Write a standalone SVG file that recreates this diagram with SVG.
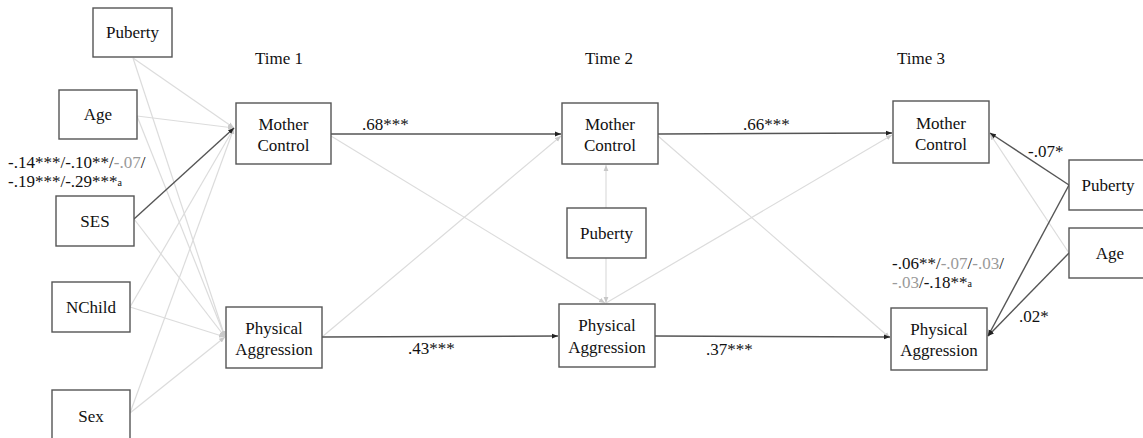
<svg xmlns="http://www.w3.org/2000/svg" width="1143" height="438" viewBox="0 0 1143 438" font-family="Liberation Serif, Times New Roman, serif" font-size="17">
  <style>
    text { font-family: 'Liberation Serif', 'Times New Roman', serif; font-size: 17px; fill: #111; }
    .box rect { fill: #fff; stroke: #555; stroke-width: 1.4; }
    .box text { text-anchor: middle; }
    .heading { text-anchor: middle; }
    .light { stroke: #dcdcdc; stroke-width: 1.2; fill: none; marker-end: url(#headLight); }
    .dark { stroke: #555; stroke-width: 1.4; fill: none; marker-end: url(#headDark); }
    .ns { fill: #9a9a9a; }
    .sup { font-size: 10px; }
  </style>
  <defs>
    <marker id="headDark" viewBox="0 0 10 10" refX="10" refY="5" markerWidth="6" markerHeight="6" markerUnits="userSpaceOnUse" orient="auto">
      <path d="M0,1 L10,5 L0,9 Z" fill="#222"/>
    </marker>
    <marker id="headLight" viewBox="0 0 10 10" refX="10" refY="5" markerWidth="6" markerHeight="6" markerUnits="userSpaceOnUse" orient="auto">
      <path d="M0,1 L10,5 L0,9 Z" fill="#c8c8c8"/>
    </marker>
  </defs>

  <!-- wave headings -->
  <g id="headings">
    <text class="heading" x="279" y="64">Time 1</text>
    <text class="heading" x="609" y="64">Time 2</text>
    <text class="heading" x="921" y="64">Time 3</text>
  </g>

  <!-- paths -->
  <g id="connectors">
    <!-- non-significant paths -->
    <line class="light" x1="133" y1="58" x2="234" y2="128"/>
    <line class="light" x1="133" y1="58" x2="225" y2="337"/>
    <line class="light" x1="137" y1="116" x2="234" y2="128"/>
    <line class="light" x1="137" y1="116" x2="225" y2="337"/>
    <line class="light" x1="134" y1="219" x2="225" y2="337"/>
    <line class="light" x1="130" y1="307" x2="234" y2="128"/>
    <line class="light" x1="130" y1="307" x2="225" y2="337"/>
    <line class="light" x1="130" y1="413" x2="234" y2="128"/>
    <line class="light" x1="130" y1="413" x2="225" y2="337"/>
    <line class="light" x1="331" y1="136" x2="605" y2="303"/>
    <line class="light" x1="322" y1="337" x2="561" y2="136"/>
    <line class="light" x1="658" y1="136" x2="890" y2="338"/>
    <line class="light" x1="606" y1="303" x2="892" y2="135"/>
    <line class="light" x1="606" y1="208" x2="606" y2="165"/>
    <line class="light" x1="606" y1="258" x2="606" y2="303"/>
    <line class="light" x1="1069" y1="253" x2="990" y2="134"/>
    <!-- significant paths -->
    <line class="dark" x1="134" y1="219" x2="234" y2="128"/>
    <line class="dark" x1="331" y1="134" x2="561" y2="134"/>
    <line class="dark" x1="658" y1="134" x2="892" y2="133"/>
    <line class="dark" x1="322" y1="337" x2="558" y2="336"/>
    <line class="dark" x1="655" y1="336" x2="890" y2="337"/>
    <line class="dark" x1="1069" y1="185" x2="990" y2="133"/>
    <line class="dark" x1="1069" y1="185" x2="988" y2="336"/>
    <line class="dark" x1="1069" y1="253" x2="988" y2="336"/>
  </g>

  <!-- coefficients -->
  <g id="coefficients">
    <text x="362" y="130">.68***</text>
    <text x="743" y="130">.66***</text>
    <text x="408" y="354">.43***</text>
    <text x="706" y="355">.37***</text>
    <text x="1028" y="157">-.07*</text>
    <text x="1019" y="322">.02*</text>
    <text x="8" y="168">-.14***/-.10**/<tspan class="ns">-.07</tspan>/</text>
    <text x="8" y="187">-.19***/-.29***<tspan class="sup" dy="-1">a</tspan></text>
    <text x="892" y="269">-.06**/<tspan class="ns">-.07</tspan>/<tspan class="ns">-.03</tspan>/</text>
    <text x="892" y="288"><tspan class="ns">-.03</tspan>/-.18**<tspan class="sup" dy="-1">a</tspan></text>
  </g>

  <!-- time-invariant covariates -->
  <g id="puberty-t1" class="box">
    <rect x="93" y="8" width="79" height="49"/>
    <text x="132.5" y="38">Puberty</text>
  </g>
  <g id="age-t1" class="box">
    <rect x="59" y="90" width="78" height="49"/>
    <text x="98" y="120">Age</text>
  </g>
  <g id="ses" class="box">
    <rect x="56" y="196" width="78" height="50"/>
    <text x="95" y="227">SES</text>
  </g>
  <g id="nchild" class="box">
    <rect x="52" y="282" width="78" height="50"/>
    <text x="91" y="313">NChild</text>
  </g>
  <g id="sex" class="box">
    <rect x="52" y="390" width="78" height="53"/>
    <text x="91" y="422">Sex</text>
  </g>

  <!-- time 1 -->
  <g id="mc-t1" class="box">
    <rect x="236" y="103" width="95" height="61"/>
    <text x="283.5" y="130">Mother</text>
    <text x="283.5" y="151">Control</text>
  </g>
  <g id="pa-t1" class="box">
    <rect x="226" y="307" width="96" height="61"/>
    <text x="274" y="334">Physical</text>
    <text x="274" y="355">Aggression</text>
  </g>

  <!-- time 2 -->
  <g id="mc-t2" class="box">
    <rect x="562" y="103" width="96" height="61"/>
    <text x="610" y="130">Mother</text>
    <text x="610" y="151">Control</text>
  </g>
  <g id="puberty-t2" class="box">
    <rect x="567" y="208" width="79" height="50"/>
    <text x="606.5" y="239">Puberty</text>
  </g>
  <g id="pa-t2" class="box">
    <rect x="559" y="304" width="96" height="63"/>
    <text x="607" y="331">Physical</text>
    <text x="607" y="353">Aggression</text>
  </g>

  <!-- time 3 -->
  <g id="mc-t3" class="box">
    <rect x="893" y="101" width="96" height="62"/>
    <text x="941" y="129">Mother</text>
    <text x="941" y="150">Control</text>
  </g>
  <g id="pa-t3" class="box">
    <rect x="891" y="308" width="96" height="62"/>
    <text x="939" y="335">Physical</text>
    <text x="939" y="356">Aggression</text>
  </g>
  <g id="puberty-t3" class="box">
    <rect x="1069" y="160" width="80" height="50"/>
    <text x="1108" y="191">Puberty</text>
  </g>
  <g id="age-t3" class="box">
    <rect x="1069" y="228" width="80" height="50"/>
    <text x="1110" y="259">Age</text>
  </g>
</svg>
